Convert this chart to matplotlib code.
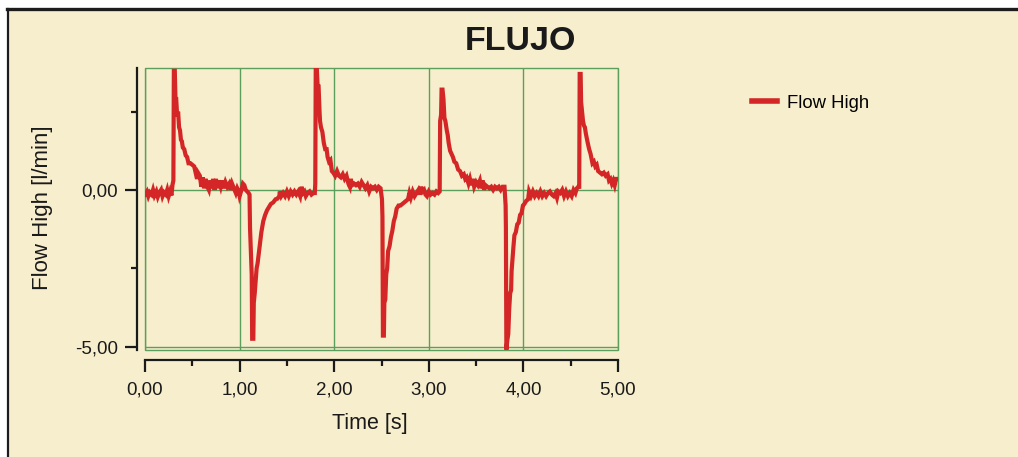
import matplotlib
matplotlib.use("Agg")
import matplotlib.pyplot as plt
from matplotlib.patches import Rectangle
from matplotlib.lines import Line2D
from matplotlib.ticker import MultipleLocator, FuncFormatter

plt.rcParams['font.family'] = ['Liberation Sans', 'DejaVu Sans']

# data: time [s] and flow [l/min]
time_s = [0.00, 0.02, 0.035, 0.05, 0.07, 0.085, 0.10, 0.12, 0.135, 0.15, 0.17, 0.185, 0.20, 0.22, 0.235,
          0.25, 0.265, 0.28, 0.29, 0.30, 0.305, 0.315, 0.322, 0.33, 0.34, 0.35, 0.36, 0.37, 0.38, 0.39,
          0.40, 0.415, 0.43, 0.445, 0.46, 0.48, 0.50, 0.52, 0.535, 0.55, 0.56, 0.58, 0.595, 0.61, 0.625,
          0.64, 0.66, 0.675, 0.69, 0.705, 0.72, 0.735, 0.75, 0.765, 0.78, 0.80, 0.815, 0.83, 0.85, 0.87,
          0.89, 0.905, 0.92, 0.94, 0.96, 0.975, 0.99, 1.00, 1.02, 1.035, 1.05, 1.065, 1.08, 1.095, 1.105,
          1.11, 1.12, 1.128, 1.133, 1.145, 1.15, 1.16, 1.17, 1.18, 1.19, 1.20, 1.215, 1.23, 1.25, 1.27,
          1.29, 1.31, 1.33, 1.355, 1.38, 1.40, 1.42, 1.425, 1.44, 1.46, 1.48, 1.50, 1.52, 1.54, 1.56,
          1.58, 1.60, 1.62, 1.64, 1.655, 1.67, 1.685, 1.70, 1.72, 1.74, 1.76, 1.78, 1.795, 1.80, 1.805,
          1.815, 1.825, 1.835, 1.845, 1.85, 1.86, 1.875, 1.89, 1.905, 1.92, 1.93, 1.945, 1.96, 1.975,
          1.99, 2.01, 2.03, 2.05, 2.07, 2.09, 2.11, 2.13, 2.15, 2.165, 2.175, 2.19, 2.21, 2.23, 2.25,
          2.27, 2.29, 2.31, 2.33, 2.35, 2.37, 2.39, 2.41, 2.43, 2.45, 2.47, 2.49, 2.505, 2.51, 2.515,
          2.525, 2.53, 2.54, 2.55, 2.56, 2.57, 2.585, 2.60, 2.615, 2.63, 2.645, 2.66, 2.68, 2.70, 2.72,
          2.74, 2.76, 2.78, 2.795, 2.81, 2.83, 2.85, 2.87, 2.89, 2.905, 2.92, 2.935, 2.95, 2.965, 2.98,
          3.00, 3.02, 3.04, 3.06, 3.08, 3.10, 3.115, 3.12, 3.13, 3.135, 3.145, 3.155, 3.165, 3.175, 3.19,
          3.20, 3.21, 3.225, 3.24, 3.255, 3.27, 3.29, 3.31, 3.33, 3.35, 3.37, 3.385, 3.40, 3.42, 3.435,
          3.45, 3.465, 3.48, 3.50, 3.52, 3.54, 3.555, 3.57, 3.585, 3.60, 3.62, 3.64, 3.66, 3.68, 3.70,
          3.72, 3.74, 3.76, 3.78, 3.80, 3.812, 3.815, 3.82, 3.83, 3.84, 3.85, 3.86, 3.87, 3.875, 3.885,
          3.895, 3.905, 3.92, 3.935, 3.95, 3.965, 3.98, 3.995, 4.01, 4.03, 4.05, 4.06, 4.08, 4.10, 4.12,
          4.14, 4.16, 4.18, 4.20, 4.22, 4.24, 4.26, 4.28, 4.30, 4.32, 4.34, 4.355, 4.37, 4.39, 4.41,
          4.43, 4.45, 4.47, 4.49, 4.51, 4.53, 4.55, 4.565, 4.58, 4.59, 4.595, 4.605, 4.61, 4.62, 4.63,
          4.64, 4.65, 4.66, 4.67, 4.68, 4.695, 4.71, 4.72, 4.73, 4.745, 4.76, 4.775, 4.79, 4.81, 4.83,
          4.85, 4.87, 4.89, 4.905, 4.92, 4.935, 4.95, 4.965, 4.98, 5.00]
flow = [-0.15, -0.05, -0.2, -0.08, -0.15, 0.0, -0.18, -0.05, -0.22, -0.1, 0.0, -0.2, -0.08, -0.15, 0.0,
        -0.2, -0.05, -0.18, 0.15, 0.3, 3.8, 3.8, 2.9, 2.9, 2.35, 2.5, 2.0, 1.9, 1.6, 1.55,
        1.35, 1.3, 1.1, 1.05, 0.85, 0.85, 0.8, 0.75, 0.55, 0.35, 0.55, 0.45, 0.1, 0.4, 0.05,
        0.35, 0.1, 0.0, 0.3, 0.05, 0.35, 0.0, 0.35, 0.05, 0.3, 0.1, 0.3, 0.05, 0.25, 0.1,
        0.2, 0.0, 0.2, 0.05, -0.1, 0.05, -0.05, -0.2, 0.0, 0.2, 0.15, 0.0, -0.05, -0.1, -0.15,
        -1.2, -2.0, -2.7, -4.75, -4.75, -3.6, -3.3, -2.9, -2.5, -2.35, -2.1, -1.7, -1.35, -1.0, -0.8,
        -0.65, -0.55, -0.45, -0.4, -0.3, -0.28, -0.2, -0.05, -0.2, -0.1, -0.2, -0.05, -0.2, -0.05, -0.15,
        -0.05, -0.15, -0.05, -0.2, 0.1, -0.1, -0.05, -0.2, -0.1, -0.05, -0.15, -0.1, -0.1, 0.2, 3.95,
        3.95, 3.3, 3.3, 2.5, 2.2, 2.0, 1.85, 1.5, 1.3, 1.3, 1.05, 0.9, 0.95, 0.6,
        0.55, 0.45, 0.6, 0.45, 0.4, 0.5, 0.35, 0.45, 0.2, 0.1, 0.35, 0.15, 0.2, 0.15, 0.2,
        0.1, 0.25, 0.15, 0.05, 0.15, -0.05, 0.1, 0.05, 0.1, 0.0, 0.1, 0.05, -0.3, -0.85, -4.65,
        -4.65, -3.6, -3.5, -2.7, -2.5, -1.95, -1.8, -1.5, -1.3, -1.0, -0.85, -0.6, -0.5, -0.5, -0.45,
        -0.4, -0.35, -0.3, -0.1, -0.25, -0.05, -0.2, -0.1, 0.0, -0.15, 0.1, -0.05, 0.0, -0.15, -0.2,
        -0.05, -0.15, -0.1, -0.15, -0.05, -0.1, -0.05, 2.2, 2.4, 3.2, 3.2, 2.9, 2.3, 2.2, 1.9,
        1.75, 1.5, 1.25, 1.15, 1.05, 0.9, 0.85, 0.65, 0.6, 0.45, 0.5, 0.35, 0.4, 0.2, 0.35,
        0.15, 0.35, 0.1, 0.25, 0.15, 0.3, 0.05, 0.3, 0.0, 0.15, 0.1, 0.05, 0.1, 0.0, 0.1,
        0.05, 0.1, 0.0, 0.1, 0.1, -0.5, -1.2, -5.1, -4.8, -4.6, -3.8, -3.3, -3.2, -2.6, -2.2,
        -1.8, -1.45, -1.35, -1.1, -1.05, -0.8, -0.75, -0.5, -0.45, -0.35, -0.3, -0.05, -0.2, -0.05, -0.2,
        -0.1, -0.2, -0.05, -0.2, -0.1, -0.2, -0.1, -0.05, -0.15, -0.2, -0.1, -0.25, -0.05, -0.1, 0.0,
        -0.2, -0.05, -0.2, -0.1, -0.2, 0.0, -0.1, 0.05, 0.1, 0.1, 3.7, 3.7, 2.8, 2.5, 2.2,
        2.05, 2.0, 1.8, 1.65, 1.5, 1.3, 1.15, 1.0, 0.85, 0.9, 0.75, 0.8, 0.6, 0.55, 0.5,
        0.55, 0.45, 0.5, 0.3, 0.35, 0.2, 0.3, 0.15, 0.35, 0.35]

cream = '#f7eecd'
green = '#5c9f5c'
red = '#d42626'
W, H = 1018, 457

fig = plt.figure(figsize=(W / 100, H / 100), dpi=100)
fig.patch.set_facecolor('white')
# cream panel with dark top/left border
fig.add_artist(Rectangle((8 / W, 0), 1, 1 - 9 / H, transform=fig.transFigure,
                         facecolor=cream, edgecolor='none', zorder=-10))
fig.add_artist(Line2D([7 / W, 1], [1 - 9 / H, 1 - 9 / H], transform=fig.transFigure,
                      color='#1c1c1c', lw=2.4))
fig.add_artist(Line2D([8 / W, 8 / W], [0, 1 - 9 / H], transform=fig.transFigure,
                      color='#1c1c1c', lw=1.6))

ax = fig.add_axes([145 / W, 1 - 350 / H, 473 / W, 282 / H])
ax.set_facecolor(cream)
ax.plot(time_s, flow, color=red, lw=3.0, label='Flow High', solid_joinstyle='miter')

ax.set_xlim(0, 5)
ax.set_ylim(-5.11, 3.89)
ax.xaxis.set_major_locator(MultipleLocator(1))
ax.xaxis.set_minor_locator(MultipleLocator(0.5))
ax.yaxis.set_major_locator(MultipleLocator(5))
ax.yaxis.set_minor_locator(MultipleLocator(2.5))
fmt = FuncFormatter(lambda v, p: f'{v:.2f}'.replace('.', ','))
ax.xaxis.set_major_formatter(fmt)
ax.yaxis.set_major_formatter(fmt)

ax.grid(True, which='major', color=green, lw=1)
ax.set_axisbelow(True)
ax.add_patch(Rectangle((0, 0), 1, 1, transform=ax.transAxes, fill=False,
                       edgecolor=green, lw=1, clip_on=False, zorder=1))

for s in ['top', 'right']:
    ax.spines[s].set_visible(False)
ax.spines['left'].set_position(('outward', 5.8))
ax.spines['bottom'].set_position(('outward', 7.2))
for s in ['left', 'bottom']:
    ax.spines[s].set_color('#1a1a1a')
    ax.spines[s].set_linewidth(1.6)
ax.tick_params(which='major', length=8.6, width=1.6, color='#1a1a1a', labelsize=13.5,
               labelcolor='#1a1a1a', pad=5)
ax.tick_params(axis='x', which='major', pad=7)
ax.tick_params(which='minor', length=4.3, width=1.6, color='#1a1a1a')

ax.set_xlabel('Time [s]', fontsize=15.5, color='#1a1a1a')
ax.xaxis.label.set_va('center')
ax.xaxis.set_label_coords((370 - 145) / 473, (350 - 423) / 282)
ax.set_ylabel('Flow High [l/min]', fontsize=16, color='#1a1a1a')
ax.yaxis.label.set_va('center')
ax.yaxis.set_label_coords((43 - 145) / 473, (350 - 208) / 282)

fig.text(520 / W, 1 - 41 / H, 'FLUJO', fontsize=24.5, fontweight='bold',
         ha='center', va='center', color='#1a1a1a')

leg = ax.legend(loc='center left', bbox_to_anchor=(752 / W, 1 - 103 / H),
                bbox_transform=fig.transFigure, frameon=False, fontsize=13.3,
                handlelength=1.36, handletextpad=0.55, borderpad=0, borderaxespad=0)
leg.get_lines()[0].set_linewidth(4)

fig.savefig('out.png', dpi=100, facecolor=fig.get_facecolor())
